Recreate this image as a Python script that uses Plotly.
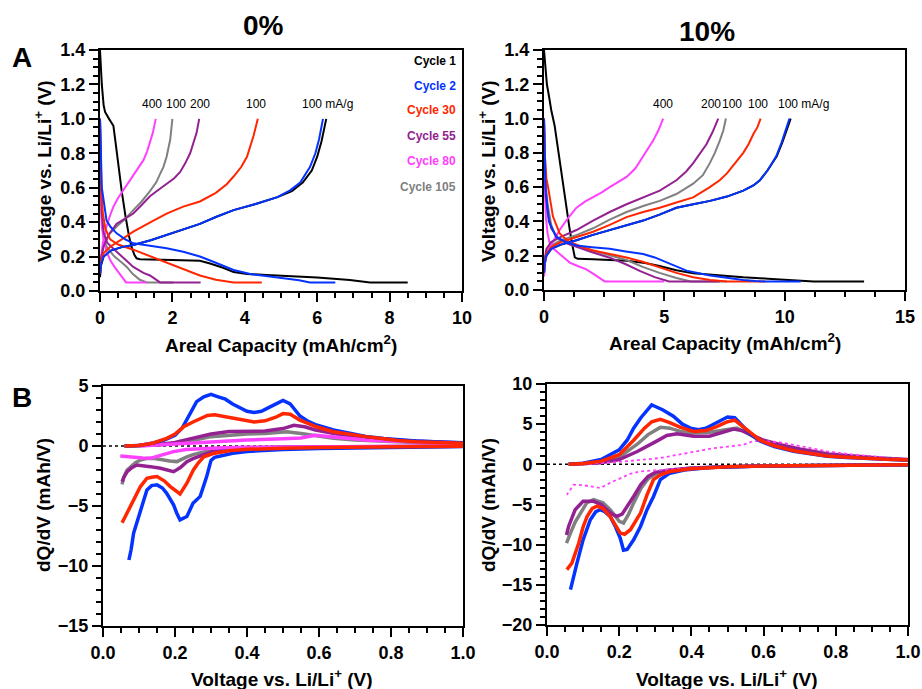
import plotly.graph_objects as go

# ---------------- DATA ----------------
CYCLES = ["Cycle 1", "Cycle 2", "Cycle 30", "Cycle 55", "Cycle 80", "Cycle 105"]
COLORS = ["#000000", "#0433FF", "#FF2600", "#942192", "#FF40FF", "#808080"]

# ---- Panel A, 0 % : capacity (mAh/cm2) vs voltage (V) ----
a0_c1_dis_q = [0, 0.02, 0.05, 0.1, 0.14, 0.25, 0.37, 0.42, 0.5, 0.6, 0.7, 0.8, 0.88, 0.95, 1.01, 1.1, 2.0, 2.76, 3.04, 3.4, 3.69, 4.06, 4.6, 5.3, 6.0, 6.9, 7.46, 8.5]
a0_c1_dis_v = [1.4, 1.3, 1.2, 1.08, 1.04, 1.0, 0.96, 0.88, 0.74, 0.58, 0.44, 0.32, 0.25, 0.21, 0.19, 0.185, 0.18, 0.175, 0.16, 0.135, 0.11, 0.099, 0.093, 0.087, 0.078, 0.064, 0.05, 0.05]
a0_c1_chg_q = [0, 0.03, 0.1, 0.3, 0.6, 0.92, 1.4, 1.84, 2.3, 2.76, 3.2, 3.69, 4.3, 4.9, 5.3, 5.6, 5.85, 6.0, 6.12, 6.2, 6.25]
a0_c1_chg_v = [0.08, 0.15, 0.2, 0.235, 0.255, 0.267, 0.295, 0.326, 0.355, 0.39, 0.43, 0.47, 0.505, 0.545, 0.58, 0.63, 0.7, 0.78, 0.87, 0.94, 1.0]

a0_c2_dis_q = [0, 0.02, 0.05, 0.18, 0.3, 0.46, 0.7, 0.92, 1.4, 1.84, 2.3, 2.76, 3.13, 3.4, 3.69, 4.15, 4.6, 5.07, 5.5, 5.8, 6.5]
a0_c2_dis_v = [1.0, 0.75, 0.6, 0.41, 0.37, 0.335, 0.3, 0.277, 0.262, 0.248, 0.228, 0.2, 0.17, 0.145, 0.122, 0.099, 0.087, 0.074, 0.062, 0.05, 0.05]
a0_c2_chg_q = [0, 0.03, 0.1, 0.3, 0.6, 0.92, 1.4, 1.84, 2.3, 2.76, 3.2, 3.69, 4.3, 4.9, 5.25, 5.53, 5.8, 5.95, 6.05, 6.12, 6.16]
a0_c2_chg_v = [0.1, 0.16, 0.2, 0.235, 0.255, 0.267, 0.295, 0.326, 0.355, 0.39, 0.43, 0.47, 0.505, 0.545, 0.585, 0.63, 0.72, 0.8, 0.88, 0.95, 1.0]

a0_c30_dis_q = [0, 0.03, 0.08, 0.15, 0.28, 0.5, 0.92, 1.4, 1.84, 2.3, 2.76, 3.2, 3.69, 4.47]
a0_c30_dis_v = [1.0, 0.6, 0.45, 0.36, 0.3, 0.27, 0.24, 0.2, 0.165, 0.125, 0.09, 0.065, 0.05, 0.05]
a0_c30_chg_q = [0, 0.03, 0.1, 0.3, 0.6, 0.92, 1.4, 1.84, 2.3, 2.76, 3.2, 3.5, 3.69, 3.9, 4.06, 4.24, 4.36]
a0_c30_chg_v = [0.1, 0.17, 0.22, 0.26, 0.3, 0.345, 0.4, 0.45, 0.49, 0.52, 0.57, 0.62, 0.665, 0.72, 0.78, 0.9, 1.0]

a0_c55_dis_q = [0, 0.02, 0.05, 0.1, 0.2, 0.4, 0.6, 0.92, 1.2, 1.38, 1.66, 2.78]
a0_c55_dis_v = [1.0, 0.65, 0.45, 0.34, 0.28, 0.24, 0.2, 0.14, 0.105, 0.09, 0.05, 0.05]
a0_c55_chg_q = [0, 0.02, 0.1, 0.25, 0.46, 0.7, 0.92, 1.15, 1.38, 1.6, 1.84, 2.05, 2.21, 2.35, 2.49, 2.6, 2.67, 2.74]
a0_c55_chg_v = [0.1, 0.18, 0.26, 0.33, 0.39, 0.42, 0.45, 0.5, 0.55, 0.585, 0.62, 0.655, 0.69, 0.74, 0.8, 0.87, 0.92, 1.0]

a0_c80_dis_q = [0, 0.02, 0.05, 0.1, 0.18, 0.28, 0.4, 0.55, 0.72, 1.29]
a0_c80_dis_v = [1.0, 0.55, 0.38, 0.3, 0.23, 0.18, 0.14, 0.1, 0.05, 0.05]
a0_c80_chg_q = [0, 0.02, 0.08, 0.18, 0.28, 0.37, 0.5, 0.65, 0.8, 0.92, 1.05, 1.2, 1.3, 1.38, 1.46, 1.54]
a0_c80_chg_v = [0.1, 0.18, 0.28, 0.375, 0.44, 0.49, 0.54, 0.587, 0.63, 0.665, 0.71, 0.76, 0.81, 0.86, 0.92, 1.0]

a0_c105_dis_q = [0, 0.02, 0.05, 0.1, 0.2, 0.4, 0.6, 0.74, 0.9, 1.1, 1.29, 2.03]
a0_c105_dis_v = [1.0, 0.6, 0.42, 0.3, 0.25, 0.2, 0.165, 0.14, 0.1, 0.065, 0.05, 0.05]
a0_c105_chg_q = [0, 0.02, 0.1, 0.25, 0.46, 0.7, 0.92, 1.15, 1.38, 1.55, 1.66, 1.75, 1.84, 1.94, 2.0]
a0_c105_chg_v = [0.1, 0.18, 0.27, 0.33, 0.375, 0.42, 0.47, 0.52, 0.58, 0.63, 0.68, 0.72, 0.78, 0.88, 1.0]

# ---- Panel A, 10 % ----
a10_c1_dis_q = [0, 0.05, 0.12, 0.22, 0.3, 0.44, 0.55, 0.65, 0.8, 0.93, 1.05, 1.14, 1.22, 1.28, 1.4, 2.04, 3.43, 4.2, 4.8, 5.5, 6.2, 7.2, 8.28, 9.3, 10.36, 11.2, 13.3]
a10_c1_dis_v = [1.4, 1.3, 1.2, 1.12, 1.05, 0.96, 0.85, 0.74, 0.6, 0.48, 0.37, 0.29, 0.23, 0.19, 0.182, 0.18, 0.17, 0.158, 0.14, 0.115, 0.097, 0.085, 0.074, 0.066, 0.058, 0.05, 0.05]
a10_c1_chg_q = [0, 0.03, 0.1, 0.3, 0.7, 1.35, 2.0, 2.73, 3.4, 4.12, 4.8, 5.5, 6.2, 6.9, 7.6, 8.28, 8.7, 8.97, 9.3, 9.67, 9.9, 10.1, 10.25]
a10_c1_chg_v = [0.08, 0.15, 0.2, 0.24, 0.265, 0.29, 0.32, 0.35, 0.375, 0.405, 0.44, 0.48, 0.5, 0.52, 0.545, 0.58, 0.61, 0.64, 0.7, 0.78, 0.86, 0.94, 1.0]

a10_c2_dis_q = [0, 0.02, 0.06, 0.2, 0.5, 0.9, 1.35, 2.0, 2.73, 3.4, 4.12, 4.6, 5.09, 5.5, 5.92, 6.9, 7.6, 8.28, 8.8, 9.2, 10.67]
a10_c2_dis_v = [1.0, 0.75, 0.6, 0.4, 0.31, 0.28, 0.26, 0.25, 0.24, 0.225, 0.21, 0.19, 0.16, 0.135, 0.113, 0.084, 0.07, 0.058, 0.052, 0.05, 0.05]
a10_c2_chg_q = [0, 0.03, 0.1, 0.3, 0.7, 1.35, 2.0, 2.73, 3.4, 4.12, 4.8, 5.5, 6.2, 6.9, 7.6, 8.28, 8.7, 8.97, 9.3, 9.65, 9.87, 10.05, 10.2]
a10_c2_chg_v = [0.1, 0.16, 0.2, 0.24, 0.265, 0.29, 0.32, 0.35, 0.375, 0.405, 0.44, 0.48, 0.5, 0.52, 0.545, 0.58, 0.61, 0.64, 0.7, 0.78, 0.86, 0.94, 1.0]

a10_c30_dis_q = [0, 0.03, 0.1, 0.17, 0.37, 0.65, 1.0, 1.5, 2.04, 2.7, 3.43, 4.1, 4.81, 5.5, 6.2, 6.9, 7.6, 9.2]
a10_c30_dis_v = [1.0, 0.8, 0.65, 0.6, 0.43, 0.33, 0.285, 0.255, 0.23, 0.21, 0.19, 0.165, 0.13, 0.1, 0.074, 0.058, 0.05, 0.05]
a10_c30_chg_q = [0, 0.03, 0.1, 0.3, 0.7, 1.35, 2.04, 2.73, 3.43, 4.12, 4.81, 5.5, 6.2, 6.89, 7.3, 7.6, 7.95, 8.28, 8.5, 8.7, 8.87, 9.0]
a10_c30_chg_v = [0.1, 0.16, 0.21, 0.25, 0.28, 0.31, 0.34, 0.38, 0.425, 0.455, 0.48, 0.51, 0.54, 0.6, 0.64, 0.68, 0.74, 0.8, 0.85, 0.91, 0.95, 1.0]

a10_c55_dis_q = [0, 0.03, 0.08, 0.15, 0.3, 0.6, 1.0, 1.5, 2.0, 2.7, 3.4, 4.0, 4.6, 5.2, 7.3]
a10_c55_dis_v = [1.0, 0.75, 0.55, 0.45, 0.36, 0.3, 0.27, 0.245, 0.22, 0.19, 0.15, 0.11, 0.075, 0.05, 0.05]
a10_c55_chg_q = [0, 0.03, 0.1, 0.3, 0.7, 1.35, 2.04, 2.73, 3.43, 4.12, 4.81, 5.5, 5.9, 6.2, 6.5, 6.75, 7.0, 7.24]
a10_c55_chg_v = [0.1, 0.18, 0.24, 0.28, 0.31, 0.35, 0.405, 0.455, 0.5, 0.54, 0.58, 0.64, 0.69, 0.74, 0.8, 0.85, 0.92, 1.0]

a10_c80_dis_q = [0, 0.03, 0.08, 0.15, 0.24, 0.4, 0.65, 1.07, 1.4, 1.76, 2.1, 2.52, 4.98]
a10_c80_dis_v = [1.0, 0.6, 0.42, 0.33, 0.27, 0.24, 0.21, 0.16, 0.14, 0.12, 0.09, 0.05, 0.05]
a10_c80_chg_q = [0, 0.03, 0.1, 0.24, 0.45, 0.65, 1.0, 1.35, 1.7, 2.04, 2.4, 2.73, 3.1, 3.43, 3.8, 4.12, 4.35, 4.53, 4.75, 4.95]
a10_c80_chg_v = [0.08, 0.15, 0.2, 0.25, 0.3, 0.35, 0.42, 0.48, 0.515, 0.54, 0.57, 0.6, 0.63, 0.66, 0.71, 0.78, 0.83, 0.87, 0.93, 1.0]

a10_c105_dis_q = [0, 0.03, 0.08, 0.15, 0.3, 0.5, 1.0, 1.5, 2.0, 2.7, 3.43, 4.1, 4.8, 5.5, 6.1, 7.6]
a10_c105_dis_v = [1.0, 0.75, 0.6, 0.5, 0.38, 0.31, 0.27, 0.25, 0.23, 0.205, 0.175, 0.135, 0.1, 0.07, 0.05, 0.05]
a10_c105_chg_q = [0, 0.03, 0.1, 0.3, 0.7, 1.35, 2.04, 2.73, 3.43, 4.12, 4.81, 5.5, 6.2, 6.6, 6.89, 7.1, 7.3, 7.45, 7.56]
a10_c105_chg_v = [0.1, 0.17, 0.22, 0.26, 0.29, 0.32, 0.36, 0.41, 0.455, 0.49, 0.52, 0.56, 0.62, 0.67, 0.74, 0.8, 0.87, 0.93, 1.0]

# ---- Panel B, 0 % : voltage (V) vs dQ/dV (mAh/V) ----
b0_c2_chg_v = [0.06, 0.1, 0.14, 0.17, 0.2, 0.22, 0.24, 0.26, 0.28, 0.3, 0.32, 0.34, 0.36, 0.38, 0.4, 0.42, 0.44, 0.46, 0.48, 0.5, 0.52, 0.547, 0.57, 0.593, 0.64, 0.69, 0.73, 0.78, 0.82, 0.87, 0.92, 0.96, 1.0]
b0_c2_chg_d = [0.0, 0.05, 0.25, 0.5, 0.9, 1.5, 2.6, 3.7, 4.1, 4.3, 4.1, 3.9, 3.5, 3.2, 2.9, 2.8, 2.9, 3.2, 3.5, 3.8, 3.5, 2.5, 2.05, 1.75, 1.33, 1.0, 0.8, 0.62, 0.5, 0.42, 0.36, 0.32, 0.28]
b0_c2_dis_v = [1.0, 0.9, 0.8, 0.7, 0.6, 0.5, 0.45, 0.4, 0.36, 0.33, 0.31, 0.3, 0.288, 0.27, 0.25, 0.233, 0.214, 0.205, 0.196, 0.177, 0.165, 0.15, 0.135, 0.122, 0.104, 0.094, 0.085, 0.078, 0.072]
b0_c2_dis_d = [-0.05, -0.08, -0.1, -0.14, -0.2, -0.3, -0.38, -0.45, -0.6, -0.8, -0.95, -1.2, -2.55, -4.2, -4.77, -5.88, -6.16, -5.6, -4.9, -3.94, -3.5, -3.24, -3.3, -3.66, -5.33, -6.3, -7.27, -8.65, -9.5]

b0_c30_chg_v = [0.06, 0.1, 0.14, 0.177, 0.2, 0.224, 0.25, 0.27, 0.29, 0.31, 0.33, 0.36, 0.39, 0.42, 0.45, 0.48, 0.5, 0.52, 0.547, 0.57, 0.593, 0.64, 0.69, 0.73, 0.78, 0.82, 0.87, 0.92, 1.0]
b0_c30_chg_d = [0.0, 0.05, 0.25, 0.64, 1.0, 1.6, 2.0, 2.3, 2.55, 2.6, 2.5, 2.35, 2.15, 2.0, 2.1, 2.4, 2.7, 2.65, 2.16, 1.85, 1.6, 1.19, 0.95, 0.78, 0.6, 0.45, 0.35, 0.28, 0.22]
b0_c30_dis_v = [1.0, 0.8, 0.6, 0.5, 0.45, 0.4, 0.35, 0.31, 0.28, 0.265, 0.251, 0.233, 0.214, 0.2, 0.187, 0.17, 0.15, 0.135, 0.122, 0.104, 0.085, 0.067, 0.053]
b0_c30_dis_d = [-0.03, -0.06, -0.12, -0.18, -0.22, -0.28, -0.4, -0.6, -0.9, -1.4, -2.0, -3.1, -4.0, -3.7, -3.38, -2.9, -2.55, -2.6, -2.69, -3.38, -4.5, -5.6, -6.4]

b0_c55_chg_v = [0.06, 0.1, 0.15, 0.2, 0.25, 0.3, 0.35, 0.4, 0.45, 0.5, 0.53, 0.56, 0.59, 0.65, 0.7, 0.8, 0.9, 1.0]
b0_c55_chg_d = [0, 0.02, 0.1, 0.3, 0.65, 1.0, 1.2, 1.2, 1.25, 1.45, 1.72, 1.6, 1.33, 1.0, 0.8, 0.5, 0.35, 0.25]
b0_c55_dis_v = [1.0, 0.8, 0.6, 0.5, 0.4, 0.35, 0.3, 0.27, 0.25, 0.233, 0.215, 0.196, 0.18, 0.16, 0.131, 0.11, 0.094, 0.08, 0.067, 0.058, 0.053]
b0_c55_dis_d = [-0.02, -0.04, -0.07, -0.1, -0.18, -0.28, -0.5, -0.8, -1.05, -1.3, -1.8, -2.14, -2.0, -1.85, -1.72, -1.6, -1.58, -1.8, -2.14, -2.6, -2.97]

b0_c80_chg_v = [0.1, 0.15, 0.2, 0.3, 0.4, 0.5, 0.55, 0.59, 0.64, 0.73, 0.8, 0.9, 1.0]
b0_c80_chg_d = [0.0, 0.08, 0.2, 0.35, 0.5, 0.6, 0.66, 0.9, 0.78, 0.5, 0.42, 0.3, 0.2]
b0_c80_dis_v = [1.0, 0.8, 0.6, 0.5, 0.4, 0.33, 0.27, 0.23, 0.196, 0.17, 0.15, 0.131, 0.11, 0.09, 0.07, 0.048]
b0_c80_dis_d = [-0.01, -0.02, -0.04, -0.06, -0.1, -0.15, -0.2, -0.3, -0.47, -0.7, -0.9, -1.03, -1.0, -0.95, -0.88, -0.83]

b0_c105_chg_v = [0.06, 0.1, 0.15, 0.2, 0.25, 0.3, 0.35, 0.4, 0.45, 0.51, 0.55, 0.6, 0.64, 0.7, 0.8, 0.9, 1.0]
b0_c105_chg_d = [0, 0.02, 0.08, 0.2, 0.45, 0.78, 0.92, 1.0, 1.05, 1.19, 1.05, 0.82, 0.64, 0.5, 0.35, 0.25, 0.2]
b0_c105_dis_v = [1.0, 0.8, 0.6, 0.5, 0.4, 0.35, 0.3, 0.27, 0.25, 0.233, 0.205, 0.185, 0.16, 0.14, 0.12, 0.104, 0.09, 0.078, 0.067, 0.058, 0.053]
b0_c105_dis_d = [-0.02, -0.03, -0.05, -0.08, -0.13, -0.2, -0.35, -0.55, -0.72, -0.9, -1.3, -1.25, -1.1, -1.03, -1.05, -1.17, -1.4, -1.7, -2.0, -2.6, -3.2]

# ---- Panel B, 10 % ----
b10_c2_chg_v = [0.06, 0.1, 0.15, 0.2, 0.222, 0.24, 0.26, 0.28, 0.29, 0.3, 0.32, 0.35, 0.375, 0.397, 0.42, 0.44, 0.46, 0.48, 0.5, 0.52, 0.545, 0.565, 0.59, 0.63, 0.683, 0.73, 0.776, 0.83, 0.88, 0.94, 1.0]
b10_c2_chg_d = [0, 0.15, 0.6, 1.8, 3.0, 4.5, 5.8, 6.9, 7.4, 7.2, 6.8, 6.0, 5.0, 4.5, 4.3, 4.5, 5.0, 5.5, 5.9, 5.8, 4.6, 3.7, 2.9, 2.2, 1.62, 1.3, 1.0, 0.85, 0.72, 0.6, 0.5]
b10_c2_dis_v = [1.0, 0.8, 0.6, 0.45, 0.38, 0.34, 0.314, 0.295, 0.277, 0.259, 0.24, 0.222, 0.212, 0.203, 0.19, 0.175, 0.16, 0.148, 0.135, 0.12, 0.1, 0.083, 0.069, 0.065]
b10_c2_dis_d = [-0.05, -0.1, -0.2, -0.4, -0.7, -1.1, -1.9, -4.0, -5.65, -7.73, -9.39, -10.6, -10.7, -9.2, -7.8, -6.5, -5.9, -5.65, -5.9, -6.9, -9.4, -12.3, -14.8, -15.6]

b10_c30_chg_v = [0.06, 0.1, 0.15, 0.2, 0.24, 0.27, 0.29, 0.314, 0.34, 0.37, 0.406, 0.44, 0.47, 0.5, 0.52, 0.545, 0.565, 0.59, 0.63, 0.683, 0.73, 0.776, 0.83, 0.88, 0.94, 1.0]
b10_c30_chg_d = [0, 0.1, 0.4, 1.2, 3.0, 4.5, 5.3, 5.6, 5.2, 4.6, 4.1, 4.2, 4.7, 5.3, 5.5, 4.6, 3.8, 3.0, 2.3, 1.7, 1.35, 1.05, 0.88, 0.74, 0.62, 0.55]
b10_c30_dis_v = [1.0, 0.8, 0.6, 0.5, 0.4, 0.34, 0.314, 0.295, 0.277, 0.259, 0.245, 0.231, 0.215, 0.203, 0.19, 0.175, 0.155, 0.138, 0.125, 0.111, 0.1, 0.088, 0.069, 0.055]
b10_c30_dis_d = [-0.05, -0.1, -0.2, -0.3, -0.55, -0.9, -1.3, -1.9, -3.8, -6.07, -7.2, -8.14, -8.7, -8.56, -7.6, -6.5, -5.5, -5.2, -5.5, -6.5, -7.8, -9.8, -12.3, -13.1]

b10_c55_chg_v = [0.06, 0.1, 0.15, 0.2, 0.25, 0.3, 0.332, 0.36, 0.406, 0.45, 0.49, 0.517, 0.54, 0.56, 0.6, 0.65, 0.7, 0.78, 0.85, 0.92, 1.0]
b10_c55_chg_d = [0, 0.05, 0.2, 0.6, 1.6, 2.8, 3.6, 3.8, 3.5, 3.5, 4.0, 4.4, 4.2, 3.8, 3.0, 2.4, 1.9, 1.3, 1.0, 0.8, 0.6]
b10_c55_dis_v = [1.0, 0.8, 0.6, 0.5, 0.4, 0.34, 0.3, 0.28, 0.26, 0.24, 0.222, 0.208, 0.194, 0.18, 0.166, 0.15, 0.129, 0.1, 0.078, 0.06, 0.054]
b10_c55_dis_d = [-0.05, -0.1, -0.2, -0.3, -0.45, -0.7, -1.0, -1.5, -2.5, -4.0, -5.2, -6.2, -6.48, -6.2, -5.65, -5.0, -4.6, -4.6, -5.65, -7.7, -8.8]

b10_c80_chg_v = [0.1, 0.2, 0.314, 0.36, 0.406, 0.46, 0.5, 0.545, 0.572, 0.6, 0.646, 0.7, 0.776, 0.85, 0.92, 1.0]
b10_c80_chg_d = [0, 0.3, 0.79, 1.2, 1.6, 2.0, 2.2, 2.45, 2.9, 2.9, 2.74, 2.3, 1.62, 1.2, 0.9, 0.6]
b10_c80_dis_v = [1.0, 0.8, 0.6, 0.45, 0.35, 0.3, 0.259, 0.23, 0.203, 0.175, 0.148, 0.12, 0.1, 0.074, 0.055]
b10_c80_dis_d = [-0.02, -0.05, -0.1, -0.3, -0.6, -0.8, -0.87, -1.2, -1.7, -2.3, -2.95, -2.74, -2.6, -2.53, -3.78]

b10_c105_chg_v = [0.06, 0.1, 0.15, 0.2, 0.25, 0.28, 0.314, 0.34, 0.37, 0.4, 0.45, 0.5, 0.526, 0.55, 0.59, 0.64, 0.7, 0.776, 0.85, 0.92, 1.0]
b10_c105_chg_d = [0, 0.08, 0.3, 0.9, 2.5, 3.7, 4.6, 4.5, 4.1, 3.9, 4.0, 4.4, 4.5, 4.0, 3.0, 2.3, 1.8, 1.2, 0.9, 0.72, 0.55]
b10_c105_dis_v = [1.0, 0.8, 0.6, 0.5, 0.4, 0.34, 0.3, 0.28, 0.26, 0.24, 0.225, 0.212, 0.2, 0.19, 0.175, 0.155, 0.129, 0.11, 0.092, 0.078, 0.065, 0.054]
b10_c105_dis_d = [-0.05, -0.1, -0.2, -0.3, -0.5, -0.8, -1.2, -1.8, -3.0, -4.8, -6.3, -7.3, -7.1, -6.5, -5.65, -4.8, -4.4, -4.8, -6.07, -7.2, -8.56, -9.8]

# rate labels above the charge curves
a0_rate_text = ["400", "100", "200", "100", "100 mA/g"]
a0_rate_x = [1.43, 2.1, 2.76, 4.3, 6.29]
a10_rate_text = ["400", "200", "100", "100", "100 mA/g"]
a10_rate_x = [4.95, 6.92, 7.8, 8.9, 10.8]
rate_y = 1.085

# ---------------- FIGURE ----------------
W, H = 922, 689
FONT = "Liberation Sans, Arial, Helvetica, sans-serif"

fig = go.Figure()

def line(x, y, color, xa, ya, width=2.0, dash="solid"):
    fig.add_trace(go.Scatter(x=x, y=y, mode="lines", xaxis=xa, yaxis=ya,
                             line=dict(color=color, width=width, dash=dash),
                             showlegend=False, hoverinfo="skip"))

g = globals()
# Panel A  (cycle 1 drawn first so cycle 2 lies on top of it)
for prefix, xa, ya in [("a0", "x", "y"), ("a10", "x2", "y2")]:
    order = [0, 5, 4, 3, 2, 1]
    for i in order:
        tag = CYCLES[i].split()[1]
        col = COLORS[i]
        line(g[f"{prefix}_c{tag}_dis_q"], g[f"{prefix}_c{tag}_dis_v"], col, xa, ya)
        line(g[f"{prefix}_c{tag}_chg_q"], g[f"{prefix}_c{tag}_chg_v"], col, xa, ya)

# Panel B: dotted zero line first
for xa, ya in [("x3", "y3"), ("x4", "y4")]:
    line([0, 1], [0, 0], "black", xa, ya, width=1.5, dash="dot")

for prefix, xa, ya in [("b0", "x3", "y3"), ("b10", "x4", "y4")]:
    order = [5, 3, 4, 1, 2]
    for i in order:
        tag = CYCLES[i].split()[1]
        col = COLORS[i]
        w, d = 3.5, "solid"
        if prefix == "b10" and tag == "80":
            w, d = 1.8, "dot"
        line(g[f"{prefix}_c{tag}_chg_v"], g[f"{prefix}_c{tag}_chg_d"], col, xa, ya, width=w, dash=d)
        line(g[f"{prefix}_c{tag}_dis_v"], g[f"{prefix}_c{tag}_dis_d"], col, xa, ya, width=w, dash=d)

def px_x(a, b):
    return [a / W, b / W]

def px_y(top, bottom):
    return [1 - bottom / H, 1 - top / H]

tickfont = dict(family=FONT, size=18, color="black", weight="bold")

def axis(domain, anchor, rng, dtick, minor_dtick, tickformat=None):
    d = dict(domain=domain, anchor=anchor, range=rng, dtick=dtick, tick0=0,
             automargin=False,
             showline=True, linecolor="black", linewidth=2, mirror=True,
             ticks="outside", ticklen=9, tickwidth=2, tickcolor="black",
             showgrid=False, zeroline=False, tickfont=tickfont, fixedrange=True,
             minor=dict(dtick=minor_dtick, tick0=0, ticks="outside", ticklen=5,
                        tickwidth=2, tickcolor="black", showgrid=False))
    if tickformat:
        d["tickformat"] = tickformat
    return d

fig.update_layout(
    width=W, height=H, autosize=False,
    margin=dict(l=0, r=0, t=0, b=0, pad=0),
    paper_bgcolor="white", plot_bgcolor="white",
    font=dict(family=FONT, color="black"),
    xaxis=axis(px_x(100, 462), "y", [0, 10], 2, 0.5),
    yaxis=axis(px_y(50, 291), "x", [0, 1.4], 0.2, 0.05, ".1f"),
    xaxis2=axis(px_x(544, 905), "y2", [0, 15], 5, 1.25),
    yaxis2=axis(px_y(50, 290), "x2", [0, 1.4], 0.2, 0.05, ".1f"),
    xaxis3=axis(px_x(103, 463), "y3", [0, 1], 0.2, 0.05, ".1f"),
    yaxis3=axis(px_y(386, 626), "x3", [-15, 5], 5, 1),
    xaxis4=axis(px_x(547, 908), "y4", [0, 1], 0.2, 0.05, ".1f"),
    yaxis4=axis(px_y(384, 625), "x4", [-20, 10], 5, 1),
)

ann = []

def paper_text(text, xp, yp, size, bold=True, color="black", angle=0, xanchor="center"):
    ann.append(dict(text=text, x=xp / W, y=1 - yp / H, xref="paper", yref="paper",
                    showarrow=False, textangle=angle, xanchor=xanchor, yanchor="middle",
                    font=dict(family=FONT, size=size, color=color,
                              weight="bold" if bold else "normal")))

# panel titles and letters
paper_text("0%", 263, 26, 28)
paper_text("10%", 707, 31, 28)
paper_text("A", 22, 57, 28)
paper_text("B", 22, 397, 28)

# axis titles
ylab_v = "Voltage vs. Li/Li<sup>+</sup> (V)"
paper_text(ylab_v, 43, 171, 19, angle=-90)
paper_text(ylab_v, 487, 171, 19, angle=-90)
paper_text("Areal Capacity (mAh/cm<sup>2</sup>)", 281, 344, 19)
paper_text("Areal Capacity (mAh/cm<sup>2</sup>)", 725, 342, 19)
paper_text("dQ/dV (mAh/V)", 43, 505, 19, angle=-90)
paper_text("dQ/dV (mAh/V)", 488, 505, 19, angle=-90)
paper_text(ylab_v, 282, 678, 19)
paper_text(ylab_v, 727, 678, 19)

# legend (text in cycle colours)
legend_y = [61, 86, 110, 136, 161, 187]
for name, col, yy in zip(CYCLES, COLORS, legend_y):
    paper_text(name, 458, yy, 12, color=col, xanchor="right")

# rate labels in data coordinates
for txt, xx in zip(a0_rate_text, a0_rate_x):
    ann.append(dict(text=txt, x=xx, y=rate_y, xref="x", yref="y", showarrow=False,
                    font=dict(family=FONT, size=12, color="black")))
for txt, xx in zip(a10_rate_text, a10_rate_x):
    ann.append(dict(text=txt, x=xx, y=rate_y, xref="x2", yref="y2", showarrow=False,
                    font=dict(family=FONT, size=12, color="black")))

fig.update_layout(annotations=ann)
fig.write_html("out.html", config={"displayModeBar": False},
               post_script="document.body.style.margin='0px';")
